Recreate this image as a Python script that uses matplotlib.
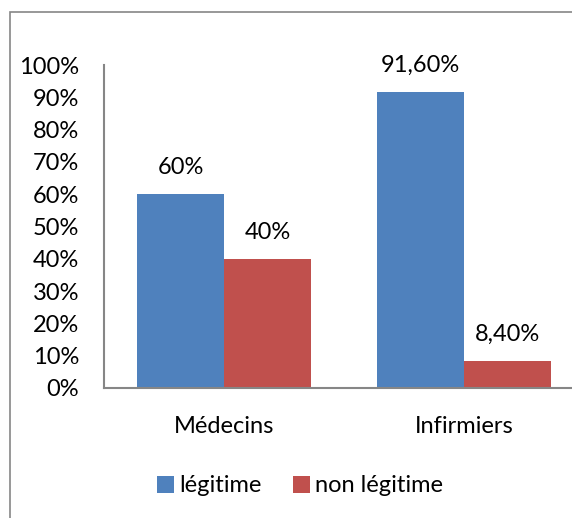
import matplotlib
matplotlib.use('Agg')
import matplotlib.pyplot as plt
from matplotlib.patches import Rectangle
import numpy as np

categories = ['Médecins', 'Infirmiers']
series_names = ['légitime', 'non légitime']
legitime = [0.60, 0.916]
non_legitime = [0.40, 0.084]
legitime_labels = ['60%', '91,60%']
non_legitime_labels = ['40%', '8,40%']
yticks = [0.0, 0.1, 0.2, 0.3, 0.4, 0.5, 0.6, 0.7, 0.8, 0.9, 1.0]
ytick_labels = ['0%', '10%', '20%', '30%', '40%', '50%', '60%', '70%', '80%', '90%', '100%']

BLUE = '#4F81BD'
RED = '#C0504D'
GRAY = '#868686'
FS = 17

plt.rcParams['font.family'] = ['Lato', 'DejaVu Sans']

W, H = 572, 518
fig = plt.figure(figsize=(W / 100, H / 100), dpi=100)

# chart border (runs off the right and bottom edges)
fig.patches.append(Rectangle((10 / W, -0.05), 1.2, 1 - 12 / H + 0.05,
                             transform=fig.transFigure, fill=False,
                             edgecolor=GRAY, linewidth=1.2))

ax = fig.add_axes([104 / W, (H - 388) / H, 480 / W, 323 / H])

x = np.arange(len(categories))
w = 0.3625
b1 = ax.bar(x - w / 2, legitime, w, color=BLUE, label=series_names[0])
b2 = ax.bar(x + w / 2, non_legitime, w, color=RED, label=series_names[1])

for bars, labels in ((b1, legitime_labels), (b2, non_legitime_labels)):
    for bar, lab in zip(bars, labels):
        ax.annotate(lab, (bar.get_x() + bar.get_width() / 2, bar.get_height()),
                    xytext=(0, 19), textcoords='offset points',
                    ha='center', va='center', fontsize=FS)

ax.set_xlim(-0.5, 1.5)
ax.set_ylim(0, 1)
ax.set_yticks(yticks)
ax.set_yticklabels(ytick_labels, fontsize=FS)
ax.set_xticks(x)
ax.set_xticklabels(categories, fontsize=FS)
ax.tick_params(axis='y', length=0, pad=18)
ax.tick_params(axis='x', length=0, pad=20)

for s in ('top', 'right'):
    ax.spines[s].set_visible(False)
for s in ('left', 'bottom'):
    ax.spines[s].set_color(GRAY)
    ax.spines[s].set_linewidth(1.5)

fig.legend(handles=[b1, b2], labels=series_names, loc='center',
           bbox_to_anchor=(300 / W, 1 - 486 / H), ncol=2, frameon=False,
           fontsize=FS, handlelength=0.72, handleheight=0.72,
           handletextpad=0.25, columnspacing=1.3)

fig.savefig('out.png', dpi=100)
